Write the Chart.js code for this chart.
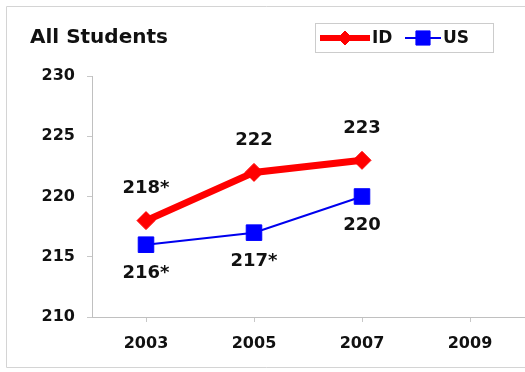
<!DOCTYPE html>
<html lang="en">
<head>
  <meta charset="UTF-8">
  <title>All Students</title>
  <style>
    html, body { margin: 0; padding: 0; background: #fff; }
    #wrap { width: 525px; height: 372px; }
  </style>
</head>
<body>
  <div id="wrap">
    <canvas id="scoreChart" width="525" height="372"></canvas>
  </div>

  <script src="https://cdn.jsdelivr.net/npm/chart.js"></script>
  <script>
    // Average scale scores by assessment year
    const years = ['2003', '2005', '2007', '2009'];
    const idScores = [218, 222, 223, null];
    const usScores = [216, 217, 220, null];
    // Text shown next to each point (* = significant difference)
    const idLabels = ['218*', '222', '223', ''];
    const usLabels = ['216*', '217*', '220', ''];
    const yTicks = [210, 215, 220, 225, 230];

    const FONT = "'DejaVu Sans', Verdana, sans-serif";

    // light frame around the whole figure
    const framePlugin = {
      id: 'frame',
      beforeDraw(chart) {
        const ctx = chart.ctx;
        ctx.save();
        ctx.strokeStyle = '#d4d4d4';
        ctx.lineWidth = 1;
        ctx.beginPath();
        ctx.moveTo(526, 6.5);
        ctx.lineTo(6.5, 6.5);
        ctx.lineTo(6.5, 367.5);
        ctx.lineTo(526, 367.5);
        ctx.stroke();
        ctx.restore();
      }
    };

    // boxed legend with line + marker samples
    const boxLegend = {
      id: 'boxLegend',
      afterDraw(chart) {
        const ctx = chart.ctx;
        ctx.save();
        ctx.fillStyle = '#fff';
        ctx.strokeStyle = '#cccccc';
        ctx.lineWidth = 1;
        ctx.fillRect(315.5, 23.5, 178, 29);
        ctx.strokeRect(315.5, 23.5, 178, 29);

        const items = [
          { ds: chart.data.datasets[0], x0: 320, x1: 370, tx: 372 },
          { ds: chart.data.datasets[1], x0: 405, x1: 441, tx: 443 }
        ];
        const y = 38;
        ctx.font = 'bold 17px ' + FONT;
        ctx.textBaseline = 'middle';
        items.forEach(it => {
          ctx.strokeStyle = it.ds.borderColor;
          ctx.lineWidth = it.ds.legendLineWidth;
          ctx.beginPath();
          ctx.moveTo(it.x0, y);
          ctx.lineTo(it.x1, y);
          ctx.stroke();
          ctx.fillStyle = it.ds.pointBackgroundColor;
          ctx.strokeStyle = it.ds.pointBorderColor;
          ctx.lineWidth = 1;
          Chart.helpers.drawPoint(ctx, {
            pointStyle: it.ds.pointStyle,
            radius: it.ds.legendPointRadius,
            rotation: 0,
            borderWidth: 1
          }, (it.x0 + it.x1) / 2, y);
          ctx.fillStyle = '#111';
          ctx.textAlign = 'left';
          ctx.fillText(it.ds.label, it.tx, y + 1);
        });
        ctx.restore();
      }
    };

    // value labels above (ID) or below (US) each point
    const pointLabels = {
      id: 'pointLabels',
      afterDatasetsDraw(chart) {
        const ctx = chart.ctx;
        ctx.save();
        ctx.font = 'bold 18px ' + FONT;
        ctx.fillStyle = '#111';
        ctx.textAlign = 'center';
        ctx.textBaseline = 'middle';
        chart.data.datasets.forEach((ds, i) => {
          const meta = chart.getDatasetMeta(i);
          meta.data.forEach((pt, j) => {
            const text = ds.valueLabels[j];
            if (!text || pt.skip) return;
            ctx.fillText(text, pt.x, pt.y + ds.labelOffset);
          });
        });
        ctx.restore();
      }
    };

    new Chart(document.getElementById('scoreChart'), {
      type: 'line',
      data: {
        labels: years,
        datasets: [
          {
            label: 'ID',
            data: idScores,
            valueLabels: idLabels,
            labelOffset: -32,
            borderColor: '#ff0000',
            borderWidth: 7,
            pointStyle: 'rectRot',
            pointRadius: 9,
            pointHoverRadius: 9,
            pointBackgroundColor: '#ff0000',
            pointBorderColor: '#ff0000',
            pointBorderWidth: 1,
            legendLineWidth: 6,
            legendPointRadius: 7,
            tension: 0
          },
          {
            label: 'US',
            data: usScores,
            valueLabels: usLabels,
            labelOffset: 29,
            borderColor: '#0000ee',
            borderWidth: 2,
            pointStyle: 'rect',
            pointRadius: 11,
            pointHoverRadius: 11,
            pointBackgroundColor: '#0000ff',
            pointBorderColor: '#0000ff',
            pointBorderWidth: 1,
            legendLineWidth: 2,
            legendPointRadius: 10,
            tension: 0
          }
        ]
      },
      options: {
        responsive: false,
        animation: false,
        layout: { autoPadding: false, padding: { left: 30, right: 1, top: 0, bottom: 0 } },
        plugins: {
          legend: { display: false },
          tooltip: { enabled: false },
          title: {
            display: true,
            text: 'All Students',
            align: 'start',
            color: '#111',
            font: { family: FONT, size: 20, weight: 'bold' },
            padding: { top: 26, bottom: 26 }
          }
        },
        scales: {
          x: {
            offset: true,
            afterFit(scale) {
              scale.height = 55;
              scale.paddingLeft = 0;
              scale.paddingRight = 0;
            },
            border: { display: true, color: '#c0c0c0', width: 1 },
            grid: { display: true, drawOnChartArea: false, drawTicks: true, tickLength: 5, color: '#c8c8c8' },
            ticks: {
              color: '#111',
              padding: 12,
              font: { family: FONT, size: 16, weight: 'bold' }
            }
          },
          y: {
            min: 210,
            max: 230,
            afterFit(scale) { scale.width = 62; },
            afterBuildTicks(scale) { scale.ticks = yTicks.map(v => ({ value: v })); },
            border: { display: true, color: '#c0c0c0', width: 1 },
            grid: { display: true, drawOnChartArea: false, drawTicks: true, tickLength: 5, color: '#c8c8c8' },
            ticks: {
              color: '#111',
              padding: 12,
              font: { family: FONT, size: 16, weight: 'bold' }
            }
          }
        }
      },
      plugins: [framePlugin, pointLabels, boxLegend]
    });
  </script>
</body>
</html>
